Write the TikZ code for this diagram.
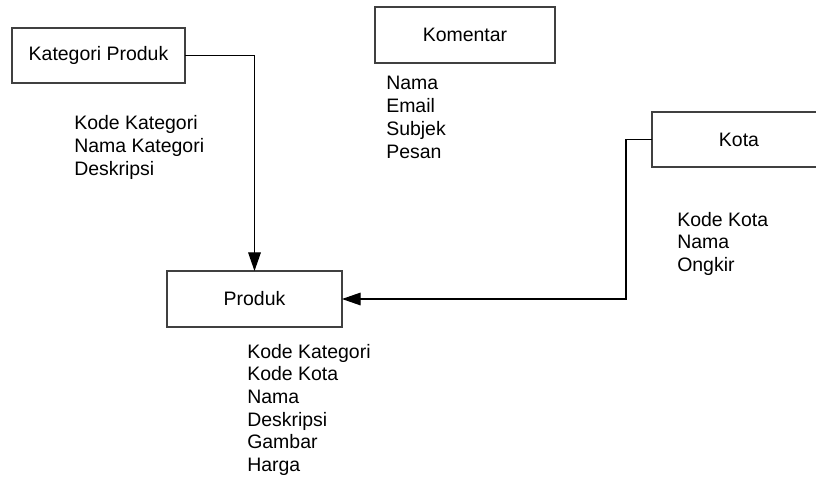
\documentclass[tikz,border=0pt]{standalone}
\usepackage{fontspec}
\setmainfont{Liberation Sans}
\usetikzlibrary{arrows.meta}
\begin{document}
\begin{tikzpicture}[x=0.75pt,y=-0.75pt,
  ent/.style={draw=black!75,line width=0.9pt,fill=white,inner sep=0pt,outer sep=0pt,
    font=\fontsize{14.6pt}{17pt}\selectfont},
  lbl/.style={anchor=base west,inner sep=0pt,font=\fontsize{14.6pt}{17pt}\selectfont},
  conn/.style={line width=0.9pt,-{Triangle[length=14pt,width=9.5pt]}}]
\useasboundingbox (0,0) rectangle (816,477);
\clip (0,0) rectangle (816,477);
\node[ent,minimum width=129.75pt,minimum height=41.25pt] (kat) at (98.5,55.5) {Kategori Produk};
\node[ent,minimum width=135pt,minimum height=42pt] (kom) at (465,35) {Komentar};
\node[ent,minimum width=130.5pt,minimum height=41.25pt] (kota) at (739,139.5) {Kota};
\node[ent,minimum width=131.25pt,minimum height=42pt] (prod) at (254.5,299) {Produk};
\foreach \t [count=\i] in {Kode Kategori,Nama Kategori,Deskripsi}
  \node[lbl] (ak\i) at (74,{130+22.7*(\i-1)}) {\t};
\foreach \t [count=\i] in {Nama,Email,Subjek,Pesan}
  \node[lbl] (am\i) at (386,{90+22.9*(\i-1)}) {\t};
\foreach \t [count=\i] in {Kode Kota,Nama,Ongkir}
  \node[lbl] (ao\i) at (677,{226+22.9*(\i-1)}) {\t};
\foreach \t [count=\i] in {Kode Kategori,Kode Kota,Nama,Deskripsi,Gambar,Harga}
  \node[lbl] (ap\i) at (247,{358+22.7*(\i-1)}) {\t};
\draw[conn] (kat.east) -| (prod.north);
\draw[conn] (kota.west) -- ++(-26,0) |- (prod.east);
\end{tikzpicture}
\end{document}
